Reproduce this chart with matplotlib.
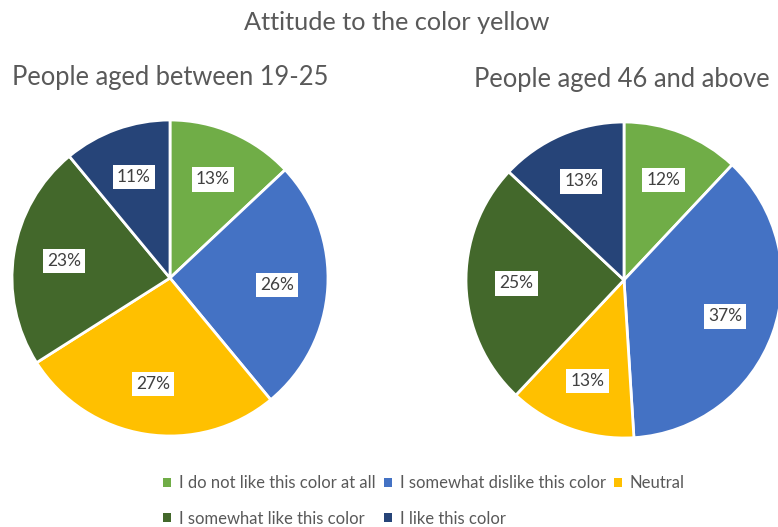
import matplotlib
matplotlib.use("Agg")
import matplotlib.pyplot as plt
from matplotlib.patches import Patch

plt.rcParams['font.family'] = ['Lato', 'DejaVu Sans']

categories = [
    "I do not like this color at all",
    "I somewhat dislike this color",
    "Neutral",
    "I somewhat like this color",
    "I like this color",
]
young_pct = [13, 26, 27, 23, 11]
senior_pct = [12, 37, 13, 25, 13]
colors = ["#70AD47", "#4472C4", "#FFC000", "#43682B", "#264478"]

title = "Attitude to the color yellow"
young_title = "People aged between 19-25"
senior_title = "People aged 46 and above"

TXT = "#595959"
W, H = 778, 527
fig = plt.figure(figsize=(W / 100, H / 100), dpi=100)


def pie_axes(cx, cy, r):
    return fig.add_axes([(cx - r) / W, (H - cy - r) / H, 2 * r / W, 2 * r / H])


def draw_pie(ax, values):
    wedges, _, autotexts = ax.pie(
        values, colors=colors, startangle=90, counterclock=False,
        autopct=lambda p: f"{p:.0f}%", pctdistance=0.68,
        wedgeprops=dict(edgecolor="white", linewidth=2),
        textprops=dict(fontsize=12.5, color="#404040"),
    )
    for t in autotexts:
        t.set_bbox(dict(facecolor="white", edgecolor="none", pad=3.0))
    ax.set_xlim(-1, 1)
    ax.set_ylim(-1, 1)
    ax.set_aspect("equal")
    ax.axis("off")


ax1 = pie_axes(170, 278, 158)
draw_pie(ax1, young_pct)
ax2 = pie_axes(624, 280, 158)
draw_pie(ax2, senior_pct)

fig.text(397 / W, 1 - 22 / H, title, ha="center", va="center", fontsize=18.2, color=TXT)
fig.text(170 / W, 1 - 78 / H, young_title, ha="center", va="center", fontsize=18.4, color=TXT)
fig.text(622 / W, 1 - 80 / H, senior_title, ha="center", va="center", fontsize=18.4, color=TXT)

handles = [Patch(facecolor=c, edgecolor="none") for c in colors]
order = [0, 3, 1, 4, 2]
fig.legend([handles[i] for i in order], [categories[i] for i in order],
           ncol=3, loc="center", bbox_to_anchor=(424 / W, 1 - 501 / H),
           frameon=False, fontsize=12, labelcolor=TXT,
           handlelength=0.5, handleheight=0.5, handletextpad=0.45,
           columnspacing=0.5, labelspacing=1.15)

fig.savefig("out.png", dpi=100)
